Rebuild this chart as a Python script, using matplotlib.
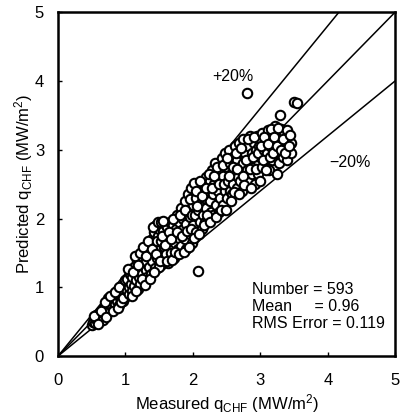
import matplotlib
matplotlib.use("Agg")
import matplotlib.pyplot as plt
import numpy as np

plt.rcParams['font.family'] = ['Liberation Sans', 'DejaVu Sans']
plt.rcParams['mathtext.fontset'] = 'custom'
plt.rcParams['mathtext.rm'] = 'Liberation Sans'
plt.rcParams['mathtext.it'] = 'Liberation Sans'

# (measured, predicted) CHF pairs, MW/m2
points = [
    # 0.5 - 1.0
    (0.50,0.45),(0.52,0.50),(0.55,0.48),(0.55,0.55),(0.58,0.52),(0.60,0.58),(0.60,0.50),
    (0.62,0.62),(0.63,0.55),(0.65,0.60),(0.66,0.68),(0.68,0.58),(0.70,0.65),(0.70,0.72),
    (0.72,0.62),(0.73,0.78),(0.75,0.70),(0.76,0.66),(0.78,0.75),(0.78,0.82),(0.80,0.72),
    (0.82,0.80),(0.83,0.68),(0.85,0.85),(0.85,0.76),(0.87,0.92),(0.88,0.80),(0.90,0.74),
    (0.90,0.88),(0.92,0.96),(0.93,0.83),(0.95,0.90),(0.96,1.02),(0.97,0.80),(0.98,0.94),
    (1.00,0.86),(1.00,1.05),(0.57,0.60),(0.67,0.52),(0.74,0.85),
    (0.53,0.58),(0.59,0.47),(0.64,0.66),(0.69,0.78),(0.71,0.57),(0.77,0.88),(0.81,0.66),
    (0.84,0.93),(0.89,0.70),(0.91,1.00),(0.94,0.78),(0.99,1.10),(0.96,0.84),
    # 1.0 - 1.5
    (1.02,0.95),(1.03,1.12),(1.05,0.90),(1.05,1.00),(1.07,1.20),(1.08,1.05),(1.10,0.95),
    (1.10,1.15),(1.12,1.30),(1.13,1.02),(1.15,1.10),(1.15,1.22),(1.17,1.38),(1.18,0.98),
    (1.20,1.15),(1.20,1.28),(1.22,1.05),(1.23,1.40),(1.25,1.20),(1.25,1.32),(1.27,1.10),
    (1.28,1.48),(1.30,1.25),(1.30,1.38),(1.32,1.15),(1.33,1.55),(1.35,1.30),(1.35,1.45),
    (1.37,1.62),(1.38,1.20),(1.40,1.38),(1.40,1.70),(1.42,1.52),(1.43,1.80),(1.44,1.28),
    (1.45,1.62),(1.46,1.90),(1.47,1.42),(1.48,1.75),(1.50,1.55),(1.50,1.85),(1.50,1.30),
    (1.04,1.26),(1.09,0.88),(1.11,1.22),(1.14,1.45),(1.16,0.95),(1.19,1.33),(1.21,1.50),
    (1.24,1.12),(1.26,1.58),(1.29,1.03),(1.31,1.46),(1.34,1.68),(1.36,1.12),(1.39,1.55),
    (1.41,1.88),(1.43,1.22),(1.46,1.48),(1.49,1.95),(1.47,1.68),
    # 1.5 - 2.0
    (1.52,1.95),(1.53,1.68),(1.55,1.40),(1.55,1.82),(1.57,1.58),(1.58,1.92),(1.60,1.48),
    (1.60,1.72),(1.62,1.88),(1.63,1.35),(1.65,1.62),(1.66,1.95),(1.68,1.50),(1.70,1.78),
    (1.70,1.90),(1.72,1.42),(1.73,1.65),(1.75,1.85),(1.76,2.05),(1.78,1.55),(1.80,1.72),
    (1.80,1.95),(1.82,2.15),(1.83,1.60),(1.85,1.85),(1.86,2.00),(1.88,1.70),(1.88,2.25),
    (1.90,1.55),(1.90,1.92),(1.92,2.10),(1.93,2.35),(1.95,1.78),(1.95,2.02),(1.97,2.45),
    (1.98,1.65),(2.00,2.20),(2.00,1.90),
    (1.51,1.38),(1.54,1.74),(1.56,1.97),(1.59,1.62),(1.61,1.38),(1.64,1.80),(1.67,1.70),
    (1.69,1.40),(1.71,2.00),(1.74,1.52),(1.77,1.80),(1.79,1.48),(1.81,2.05),(1.84,1.75),
    (1.87,1.52),(1.89,2.12),(1.91,1.82),(1.94,1.58),(1.96,2.28),(1.99,2.05),(1.97,1.85),
    # 2.0 - 2.5
    (2.02,2.52),(2.03,2.05),(2.05,1.80),(2.05,2.30),(2.07,1.23),(2.08,2.12),(2.10,1.95),
    (2.10,2.40),(2.12,2.22),(2.13,1.85),(2.15,2.05),(2.15,2.50),(2.17,2.30),(2.18,1.95),
    (2.20,2.15),(2.20,2.60),(2.22,2.40),(2.23,2.00),(2.25,2.25),(2.25,2.55),(2.27,2.10),
    (2.28,2.70),(2.30,2.35),(2.30,2.05),(2.32,2.50),(2.33,2.80),(2.35,2.20),(2.35,2.60),
    (2.37,2.40),(2.38,2.10),(2.40,2.70),(2.40,2.30),(2.42,2.52),(2.43,2.88),(2.45,2.20),
    (2.45,2.62),(2.47,2.40),(2.48,2.95),(2.50,2.30),(2.50,2.75),
    (2.01,1.72),(2.04,2.40),(2.06,2.18),(2.09,1.78),(2.11,2.55),(2.14,2.32),(2.16,1.90),
    (2.19,2.45),(2.21,2.05),(2.24,2.65),(2.26,1.95),(2.29,2.45),(2.31,2.62),(2.34,2.02),
    (2.36,2.75),(2.39,2.50),(2.41,2.12),(2.44,2.78),(2.46,2.50),(2.49,2.12),
    # 2.5 - 3.0
    (2.52,2.55),(2.53,3.00),(2.55,2.40),(2.55,2.80),(2.57,2.65),(2.58,2.35),(2.60,2.90),
    (2.60,2.50),(2.62,3.05),(2.63,2.70),(2.65,2.45),(2.65,2.85),(2.67,2.60),(2.68,3.10),
    (2.70,2.75),(2.70,2.55),(2.72,2.95),(2.73,2.40),(2.75,2.80),(2.75,3.15),(2.77,2.65),
    (2.78,2.95),(2.80,3.82),(2.80,2.70),(2.82,3.05),(2.83,2.55),(2.85,2.85),(2.85,3.20),
    (2.87,2.95),(2.88,2.65),(2.90,3.10),(2.90,2.75),(2.92,2.50),(2.93,3.00),(2.95,3.20),
    (2.95,2.85),(2.97,2.65),(2.98,3.05),(3.00,2.90),(3.00,3.15),
    (2.51,2.88),(2.54,2.62),(2.56,2.25),(2.59,2.75),(2.61,2.38),(2.64,2.95),(2.66,2.72),
    (2.69,2.35),(2.71,3.02),(2.74,2.62),(2.76,2.48),(2.79,2.85),(2.81,3.15),(2.84,2.72),
    (2.86,2.45),(2.89,2.90),(2.91,3.18),(2.94,2.72),(2.96,2.95),(2.99,2.55),
    # 3.0 - 3.55
    (3.02,2.75),(3.03,3.25),(3.05,3.00),(3.07,2.85),(3.08,3.15),(3.10,2.95),(3.12,3.28),
    (3.13,2.70),(3.15,3.05),(3.17,3.20),(3.18,2.85),(3.20,3.10),(3.22,3.35),(3.23,2.95),
    (3.25,3.20),(3.27,3.05),(3.28,2.80),(3.30,3.30),(3.32,3.10),(3.33,2.90),(3.35,3.25),
    (3.38,3.02),(3.40,2.85),(3.40,3.20),(3.45,3.10),(3.50,3.70),(3.55,3.68),(3.29,3.50),
    (3.25,2.65),(3.45,2.95),
    (3.01,3.05),(3.04,2.85),(3.06,3.18),(3.09,2.70),(3.11,3.08),(3.14,2.90),(3.16,3.30),
    (3.19,2.95),(3.21,3.18),(3.24,3.05),(3.26,3.32),(3.31,3.00),(3.34,3.15),(3.36,2.95),
    (3.39,3.28),(3.42,3.05),(3.44,3.22),
]
measured = [p[0] for p in points]
predicted = [p[1] for p in points]

bands = [1.0, 1.2, 0.8]   # perfect fit, +20 %, -20 %
stats_text = "Number = 593\nMean     = 0.96\nRMS Error = 0.119"

fig = plt.figure(figsize=(4.0, 4.17), dpi=100)
ax = fig.add_axes([0.145, 0.146, 0.843, 0.825])

line_x = np.array([0, 5])
for k in bands:
    ax.plot(line_x, k * line_x, color='black', lw=1.1, zorder=1)

ax.plot(measured, predicted, 'o', ms=6.8, mfc='white', mec='black', mew=1.5, zorder=2)

ax.text(2.6, 4.07, '+20%', fontsize=11.5, ha='center', va='center')
ax.text(4.33, 2.82, '\u221220%', fontsize=11.5, ha='center', va='center')
ax.text(2.87, 0.72, stats_text, fontsize=11.5, ha='left', va='center', linespacing=1.2)

ax.set_xlim(0, 5)
ax.set_ylim(0, 5)
ax.set_xticks(range(6))
ax.set_yticks(range(6))
ax.tick_params(direction='in', length=3, width=1, labelsize=12, pad=12)
ax.tick_params(axis='y', pad=10)
for s in ax.spines.values():
    s.set_linewidth(1.8)

ax.set_xlabel(r'Measured q$_{\mathrm{CHF}}$ (MW/m$^2$)', fontsize=12, labelpad=3)
ax.set_ylabel(r'Predicted q$_{\mathrm{CHF}}$ (MW/m$^2$)', fontsize=12, labelpad=0)

fig.savefig('out.png', dpi=100)
